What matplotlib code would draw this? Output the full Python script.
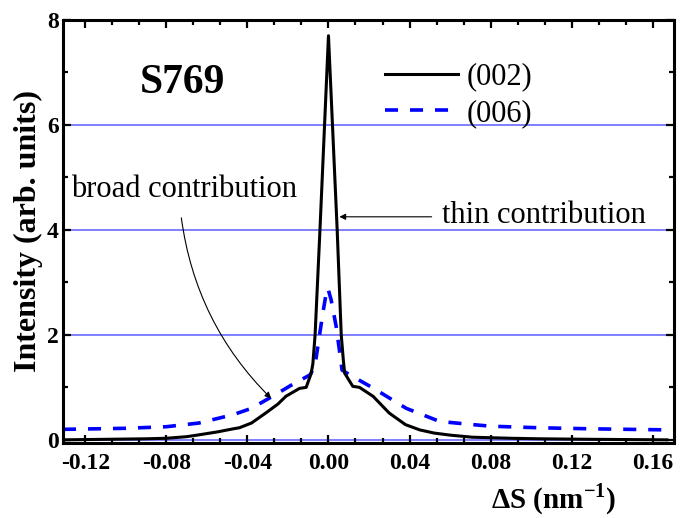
import matplotlib
matplotlib.use("Agg")
from matplotlib import pyplot as plt
from matplotlib.ticker import MultipleLocator, AutoMinorLocator

# (002) reflection, solid black
deltaS002 = [-0.131, -0.11, -0.09, -0.08, -0.07, -0.064, -0.055, -0.047, -0.044, -0.038,
             -0.031, -0.025, -0.021, -0.0143, -0.011, -0.0085, -0.0077, -0.0066, -0.0042,
             0.0, 0.0043, 0.0063, 0.0074, 0.008, 0.012, 0.0153, 0.022, 0.030, 0.038,
             0.045, 0.052, 0.060, 0.071, 0.090, 0.104, 0.13, 0.167]
intensity002 = [0.0, 0.01, 0.02, 0.03, 0.06, 0.095, 0.15, 0.21, 0.23, 0.32,
                0.51, 0.68, 0.83, 0.98, 1.0, 1.27, 1.45, 2.0, 4.0,
                7.7, 4.0, 2.0, 1.49, 1.27, 1.02, 1.0, 0.83, 0.51, 0.29,
                0.19, 0.13, 0.09, 0.05, 0.03, 0.02, 0.01, 0.0]

# (006) reflection, dashed blue
deltaS006 = [-0.131, -0.10, -0.08, -0.064, -0.047, -0.038, -0.0276, -0.018, -0.009,
             -0.0066, -0.0044, -0.0028, -0.0011, -0.0003, 0.0013, 0.0038, 0.0054,
             0.0067, 0.0104, 0.0219, 0.0384, 0.0549, 0.0713, 0.08, 0.104, 0.13, 0.167]
intensity006 = [0.20, 0.22, 0.25, 0.32, 0.48, 0.60, 0.83, 1.05, 1.24,
                1.43, 2.0, 2.41, 2.8, 2.89, 2.67, 2.16, 1.71,
                1.33, 1.24, 0.99, 0.60, 0.35, 0.29, 0.26, 0.23, 0.21, 0.19]

gridLevels = [0, 2, 4, 6]
legendLabels = ["(002)", "(006)"]


def main():
    plt.rcParams["font.family"] = ["Liberation Serif", "DejaVu Serif"]
    plt.rcParams["mathtext.fontset"] = "custom"
    plt.rcParams["mathtext.rm"] = "Liberation Serif"
    plt.rcParams["mathtext.bf"] = "Liberation Serif:bold"
    plt.rcParams["lines.scale_dashes"] = False

    fig = plt.figure(figsize=(6.81, 5.18), dpi=100)
    ax = fig.add_axes([0.0925, 0.1448, 0.8972, 0.8166])

    for level in gridLevels:
        ax.axhline(level, color="#5c5cff", linewidth=1.1, zorder=1)

    ax.plot(deltaS002, intensity002, color="black", linewidth=2.2,
            label=legendLabels[0], zorder=3)
    ax.plot(deltaS006, intensity006, color="#0000ff", linewidth=2.6,
            dashes=(9.4, 8.6), label=legendLabels[1], zorder=2)

    ax.set_xlim(-0.131, 0.1705)
    ax.set_ylim(-0.06, 8)

    ax.xaxis.set_major_locator(MultipleLocator(0.04))
    ax.xaxis.set_minor_locator(AutoMinorLocator(3))
    ax.yaxis.set_major_locator(MultipleLocator(2))
    ax.yaxis.set_minor_locator(AutoMinorLocator(2))
    ax.xaxis.set_major_formatter(plt.FuncFormatter(lambda v, p: "%.2f" % v))

    ax.tick_params(which="both", direction="in", top=True, right=True, width=1.6)
    ax.tick_params(which="major", length=6, pad=7, labelsize=17)
    ax.tick_params(which="minor", length=3.5)
    ax.tick_params(axis="y", pad=3)
    for lab in ax.get_xticklabels() + ax.get_yticklabels():
        lab.set_fontweight("bold")
    for spine in ax.spines.values():
        spine.set_linewidth(2.2)

    ylab = ax.set_ylabel("Intensity (arb. units)", fontsize=23, fontweight="bold")
    ylab.set_verticalalignment("center")
    ax.yaxis.set_label_coords(-0.057, 0.5)
    xlab = ax.set_xlabel(r"ΔS (nm$^{\mathbf{-1}}$)", fontsize=21, fontweight="bold")
    xlab.set_verticalalignment("center")
    ax.xaxis.set_label_coords(0.803, -0.133)

    ax.text(-0.0933, 6.61, "S769", fontsize=30, fontweight="bold", va="baseline")
    ax.text(-0.1269, 4.63, "broad contribution", fontsize=22, va="baseline")
    ax.text(0.0558, 4.13, "thin contribution", fontsize=22, va="baseline")

    ax.annotate("", xy=(0.0054, 4.25), xytext=(0.0509, 4.25),
                arrowprops=dict(arrowstyle="-|>", color="black", lw=0.8,
                                mutation_scale=9, shrinkA=0, shrinkB=0))
    ax.annotate("", xy=(-0.0283, 0.79), xytext=(-0.0726, 4.23),
                arrowprops=dict(arrowstyle="-|>", color="black", lw=0.8,
                                mutation_scale=9, shrinkA=0, shrinkB=0,
                                connectionstyle="arc3,rad=0.17"))

    ax.legend(loc="upper left", bbox_to_anchor=(0.527, 0.90), frameon=False,
              fontsize=22, handlelength=2.4, handletextpad=0.26, labelspacing=0.25,
              borderpad=0, borderaxespad=0)

    fig.savefig("out.png", dpi=100)


if __name__ == "__main__":
    main()
